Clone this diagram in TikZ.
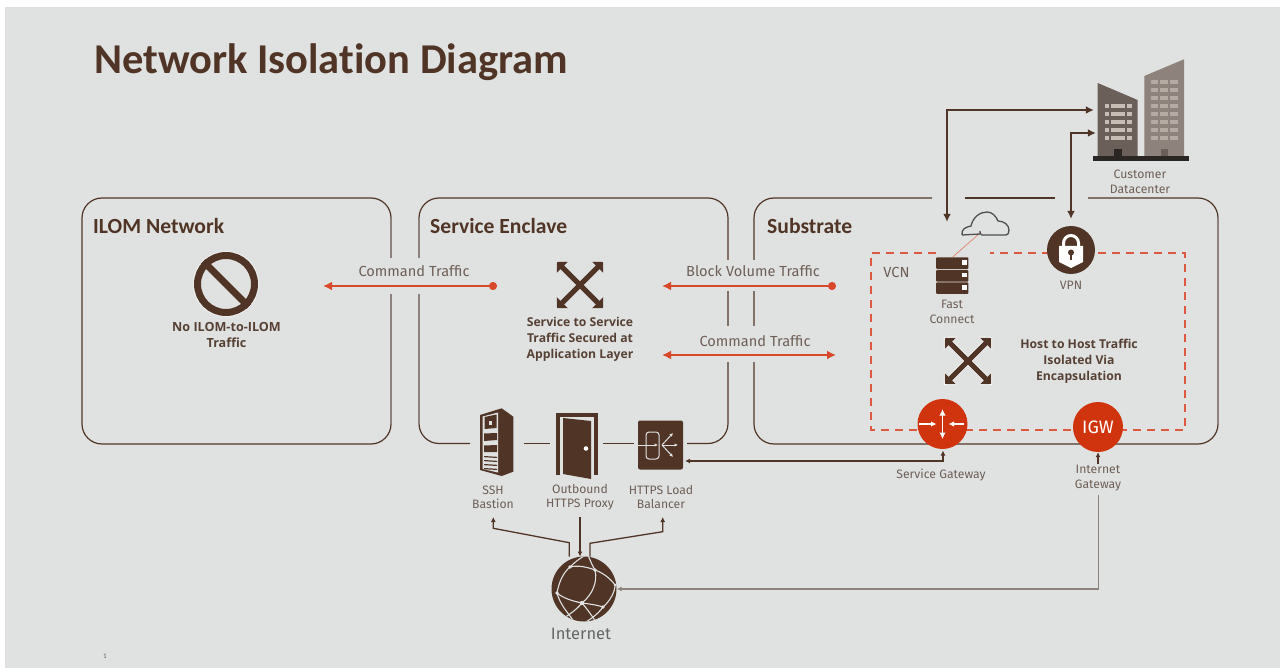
\documentclass[tikz,border=0pt]{standalone}
\usepackage{fontspec}
\setmainfont{Carlito}[Ligatures=CommonOff]
\newfontfamily\lbl{Fira Sans}
\newfontfamily\lblb{Open Sans}
\usetikzlibrary{arrows.meta,calc}
\definecolor{bgc}{HTML}{E0E2E1}
\definecolor{brn}{HTML}{503526}
\definecolor{txtc}{HTML}{6E5F57}
\definecolor{redl}{HTML}{D8492B}
\definecolor{redf}{HTML}{D0340F}
\definecolor{bldA}{HTML}{6A5F59}
\definecolor{bldB}{HTML}{8E837C}
\definecolor{winA}{HTML}{C8BDB4}
\definecolor{winB}{HTML}{B5AAA1}
\tikzset{
  panel/.style={draw=brn,line width=1.2pt},
  panelside/.style={draw=bldB,line width=1.7pt},
  paneltitle/.style={anchor=west,font=\bfseries\fontsize{21.6}{24}\selectfont,text=brn,inner sep=0pt},
  lab/.style={font=\lbl\fontsize{12.2}{14.5}\selectfont,text=txtc,align=center,inner sep=0pt},
  traffic/.style={font=\lbl\fontsize{14.6}{16}\selectfont,text=txtc,align=center,inner sep=0pt},
  blab/.style={font=\lblb\bfseries\fontsize{12.2}{16}\selectfont,text=brn!85!gray,align=center,inner sep=0pt},
  redarrow/.style={draw=redl,line width=2.5pt,{Circle[length=8pt]}-{Latex[length=9pt,width=9pt]}},
  reddouble/.style={draw=redl,line width=2.3pt,{Latex[length=9pt,width=9pt]}-{Latex[length=9pt,width=9pt]}},
  link/.style={draw=brn,line width=1.9pt,{Latex[length=8pt,width=8pt]}-{Latex[length=8pt,width=8pt]}},
  thin link/.style={draw=brn,line width=1.3pt,-{Latex[length=5pt,width=5pt]}},
  anchorpt/.style={inner sep=0pt,minimum size=0pt},
  xarrow/.style={draw=brn,line width=5pt,{Triangle[length=7.5pt,width=15pt]}-{Triangle[length=7.5pt,width=15pt]}},
  xhalo/.style={draw=white,line width=6.5pt,{Triangle[length=9pt,width=18pt]}-{Triangle[length=9pt,width=18pt]}},
  vcnline/.style={draw=redl!90!white,line width=1.8pt,dash pattern=on 8pt off 6pt},
  globeline/.style={draw=bgc,line width=1.1pt},
}
\begin{document}
\begin{tikzpicture}[x=1pt,y=-1pt]
\useasboundingbox (0,0) rectangle (1280,668);
\fill[white] (0,0) rectangle (1280,668);
\fill[bgc] (5,7) rectangle (1280,668);

% title
\node[anchor=base west,inner sep=0pt,text=brn,font=\bfseries\fontsize{42.5}{46}\selectfont] (title) at (94,74) {Network Isolation Diagram};

% panels
\draw[panel,rounded corners=20pt] (82,198) rectangle (391,444);
\draw[panel,rounded corners=20pt] (470,443.5) -- (419,443.5) -- (419,198) -- (728,198) -- (728,443.5) -- (687,443.5);
\draw[panel] (524,443.5) -- (550,443.5) (603,443.5) -- (634,443.5);
\draw[panel,rounded corners=20pt] (932,198) -- (754,198) -- (754,444) -- (1218,444) -- (1218,198) -- (1088,198);
\draw[panel] (965,198) -- (1055,198);
\draw[panelside] (391,218) -- (391,424) (419,218) -- (419,424) (1218,218) -- (1218,424);
% gaps where the traffic arrows cross
\fill[bgc] (388,258) rectangle (394,294);
\fill[bgc] (416,258) rectangle (422,294);
\fill[bgc] (725,260) rectangle (731,291);
\fill[bgc] (751,260) rectangle (757,291);
\fill[bgc] (725,326) rectangle (731,362);
\fill[bgc] (751,326) rectangle (757,362);
\node[paneltitle] (t1) at (93,226) {ILOM Network};
\node[paneltitle] (t2) at (430,226) {Service Enclave};
\node[paneltitle] (t3) at (767,226) {Substrate};

% VCN dashed
\draw[vcnline] (936,253) -- (871,253) -- (871,430) -- (1185,430) -- (1185,253) -- (990,253);
\node[font=\lbl\fontsize{14.6}{16}\selectfont,text=txtc,inner sep=0pt] (vcn) at (896.5,272) {VCN};

% no symbol
\draw[white!50!bgc,line width=1pt] (226,284) circle[radius=32.5];
\node[draw=brn,line width=7pt,circle,minimum size=57pt,inner sep=0pt] (noilom) at (226,284) {};
\draw[brn,line width=7pt] (noilom.north west) -- (noilom.south east);
\node[blab,font=\lblb\bfseries\fontsize{12.6}{16}\selectfont] (noilomt) at (226.5,335) {No ILOM-to-ILOM\\Traffic};

% traffic arrows
\coordinate (c1a) at (497,286); \coordinate (c1b) at (323,286);
\coordinate (b1a) at (836,286); \coordinate (b1b) at (662,286);
\coordinate (c2a) at (662,355); \coordinate (c2b) at (836,355);
\draw[redarrow] (c1a) -- (c1b);
\draw[redarrow] (b1a) -- (b1b);
\draw[reddouble] (c2a) -- (c2b);
\node[traffic] (c1t) at (414,271) {Command Traffic};
\node[traffic] (b1t) at (753,271) {Block Volume Traffic};
\node[traffic] (c2t) at (755,341) {Command Traffic};

% service-to-service cross
\node[anchorpt] (xs) at (580,285) {};
\draw[xarrow] ($(xs)+(-23,-23)$) -- ($(xs)+(23,23)$);
\draw[xarrow] ($(xs)+(23,-23)$) -- ($(xs)+(-23,23)$);
\node[blab] (xst) at (580,339) {Service to Service\\Traffic Secured at\\Application Layer};

% host-to-host cross
\node[anchorpt] (xh) at (968,361) {};
\draw[xhalo] ($(xh)+(-24,-24)$) -- ($(xh)+(24,24)$);
\draw[xhalo] ($(xh)+(24,-24)$) -- ($(xh)+(-24,24)$);
\draw[xarrow] ($(xh)+(-23,-23)$) -- ($(xh)+(23,23)$);
\draw[xarrow] ($(xh)+(23,-23)$) -- ($(xh)+(-23,23)$);
\node[blab] (xht) at (1079,361) {Host to Host Traffic\\Isolated Via\\Encapsulation};

% datacenter
\node[anchorpt] (dc) at (1094,110) {};
\fill[bldA] (1097.7,83) -- (1137.7,100) -- (1137.7,157) -- (1097.7,157) -- cycle;
\fill[bldB] (1144.3,76) -- (1184,59.3) -- (1184,157) -- (1144.3,157) -- cycle;
\foreach \y in {106,114,121.7,129.7,137.7}{
  \fill[winA] (1104.5,\y-2) rectangle (1109,\y+2);
  \fill[winA] (1110.7,\y-2) rectangle (1125,\y+2);
  \fill[winA] (1126.7,\y-2) rectangle (1131.7,\y+2);
}
\foreach \y in {82,90,97.7,105.7,113.7,121.7,129.7,137.7}{
  \fill[winB] (1150.7,\y-2) rectangle (1158.3,\y+2);
  \fill[winB] (1160,\y-2) rectangle (1168.3,\y+2);
  \fill[winB] (1170,\y-2) rectangle (1177.7,\y+2);
}
\fill[black!60!bldA] (1114,149) rectangle (1121.7,157);
\fill[bldA] (1160.7,149) rectangle (1168.3,157);
\fill[black!60!bldA] (1093.3,156) rectangle (1189,161);
\node[lab] (dct) at (1140,182) {Customer\\Datacenter};

% fast connect
\node[anchorpt] (fc) at (947,222) {};
\node[anchorpt] (fcs) at (952.7,257) {};
\node[anchorpt] (cl) at (980,233) {};
\draw[redl!70!white,line width=0.7pt] (fcs) -- (cl);
\draw[black!65!bgc,line width=1.3pt,line join=round] (962,235) .. controls (961,229) and (966,227) .. (971,226)
  .. controls (973,217) and (980,212) .. (987,212)
  .. controls (992,212) and (996,216) .. (998,221)
  .. controls (1004,221) and (1009,225) .. (1009,230)
  .. controls (1009,233) and (1008,235) .. (1006,235) -- (982,235)
  .. controls (980,235) and (980,233) .. (980,231)
  (980,234) -- (962,235);
\foreach \a/\b in {257.3/269,270/281.7,282.3/294}{
  \fill[brn,rounded corners=1pt] (936,\a) rectangle (968.3,\b);
  \fill[white] (962.2,\a+3) rectangle (967,\a+7.5);
}
\node[lab] (fct) at (952,312) {Fast\\Connect};

% VPN
\node[circle,fill=brn,minimum size=48pt,inner sep=0pt] (vpn) at (1071,250) {};
\fill[white] (1059,246) -- (1083,246) -- (1083,262) -- (1071,268) -- (1059,262) -- cycle;
\draw[white,line width=3pt] (1063.5,246) -- (1063.5,243) arc[start angle=180,end angle=360,radius=7.5] -- (1078.5,246);
\fill[brn] (1071,252.5) circle[radius=3];
\fill[brn] (1069.8,252.5) rectangle (1072.2,260);
\node[lab] (vpnt) at (1071,285) {VPN};
\node[anchorpt] (vpna) at (1071,219) {};
\node[anchorpt] (dc2) at (1096,133) {};

% connectors to datacenter
\draw[link] (fc) |- (dc);
\draw[link] (vpna) |- (dc2);

% gateways
\node[circle,fill=redf,minimum size=50pt,inner sep=0pt] (sgw) at (942.5,424) {};
\draw[white,line width=1.4pt,{Latex[length=6.5pt,width=6.5pt]}-{Latex[length=6.5pt,width=6.5pt]}] (942.5,409) -- (942.5,439);
\draw[white,line width=1.3pt,-{Latex[length=5.5pt,width=5.5pt]}] (919,424) -- (936.5,424);
\draw[white,line width=1.3pt,-{Latex[length=5.5pt,width=5.5pt]}] (964,424) -- (948.5,424);
\node[circle,fill=redf,minimum size=50pt,inner sep=0pt,text=white,font=\lbl\fontsize{18}{20}\selectfont] (igw) at (1098,427) {IGW};
\node[lab] (sgwt) at (941,475) {Service Gateway};
\node[lab] (igwt) at (1098,478) {Internet\\Gateway};
\coordinate (igwa) at (1098,464);
\draw[thin link] (igwa) -- (igw.south);

% bastion icon
\node[anchorpt] (ssh) at (496,442) {};
\fill[brn] (480,415) -- (501.7,408.3) -- (513.3,416.7) -- (513.3,471.7) -- (501.7,476) -- (480,470) -- cycle;
\fill[bgc] (482.7,416.5) -- (498,412.5) -- (498,472.5) -- (482.7,469) -- cycle;
\fill[brn] (484.5,417) -- (496.5,414.5) -- (496.5,428) -- (484.5,429) -- cycle;
\fill[bgc] (489,421) rectangle (492,425);
\fill[brn] (484,433.5) -- (497,433) -- (497,440) -- (484,441) -- cycle;
\fill[brn] (484,445.5) -- (497,445) -- (497,452) -- (484,452) -- cycle;
\foreach \y in {456,460,464,468}{\fill[brn] (484,\y) -- (497,\y+0.8) -- (497,\y+2) -- (484,\y+1.2) -- cycle;}
\node[lab] (ssht) at (493,497.5) {SSH\\Bastion};

% proxy icon
\node[anchorpt] (proxy) at (580,445) {};
\draw[brn,line width=3.8pt] (558,475) -- (558,414.7) -- (596,414.7) -- (596,475);
\fill[brn] (563,418) -- (591,421) -- (591,479) -- (563,474) -- cycle;
\fill[white] (586,448.5) circle[radius=2.3];
\node[lab] (proxyt) at (580,497) {Outbound\\HTTPS Proxy};

% load balancer icon
\node[fill=brn,rounded corners=2pt,minimum width=45pt,minimum height=49pt,inner sep=0pt] (lb) at (660.5,445) {};
\draw[bgc,line width=1pt,rounded corners=3pt] (646,432) rectangle (659,459);
\draw[bgc,line width=1pt,-{Latex[length=3.5pt,width=3.5pt]}] (638,445) -- (658,445);
\draw[bgc,line width=1pt,-{Latex[length=3.5pt,width=3.5pt]}] (662,445) -- (678,445);
\draw[bgc,line width=1pt,-{Latex[length=3.5pt,width=3.5pt]}] (662,445) -- (673,433);
\draw[bgc,line width=1pt,-{Latex[length=3.5pt,width=3.5pt]}] (662,445) -- (673,457);
\node[lab] (lbt) at (661,497) {HTTPS Load\\Balancer};

% connectors LB-SGW
\coordinate (lbr) at (685,461);
\coordinate (sgwb) at (943,450.5);
\draw[draw=brn,line width=1.3pt,{Latex[length=5pt,width=5pt]}-{Latex[length=5pt,width=5pt]}] (lbr) -| (sgwb);

% internet globe
\node[circle,fill=brn,minimum size=65pt,inner sep=0pt] (inet) at (584,589) {};
\begin{scope}
\clip (inet) circle[radius=32.5];
\draw[globeline] (557,593) .. controls (559,582) and (563,573) .. (570,567);
\draw[globeline] (570,567) .. controls (578,565) and (587,567) .. (595,570);
\draw[globeline] (595,570) .. controls (603,573) and (610,578) .. (615,585);
\draw[globeline] (570,567) .. controls (575,562) and (580,558) .. (586,555);
\draw[globeline] (595,570) .. controls (592,565) and (590,560) .. (588,555);
\draw[globeline] (595,570) .. controls (598,582) and (592,595) .. (582,603);
\draw[globeline] (615,585) .. controls (615,592) and (610,601) .. (603,607);
\draw[globeline] (557,593) .. controls (563,598) and (572,601) .. (582,603);
\draw[globeline] (582,603) .. controls (590,604) and (597,605) .. (603,607);
\draw[globeline] (557,593) .. controls (560,604) and (567,612) .. (573,620);
\draw[globeline] (582,603) .. controls (576,610) and (570,614) .. (564,618);
\draw[globeline] (582,603) .. controls (588,610) and (592,616) .. (596,622);
\draw[globeline] (603,607) .. controls (598,614) and (592,618) .. (586,622);
\end{scope}
\fill[bgc] (570,567) circle[radius=1.9] (595,570) circle[radius=1.9] (557,593) circle[radius=1.9] (582,603) circle[radius=2.2] (603,607) circle[radius=1.9] (615,585) circle[radius=1.5];
\node[font=\lbl\fontsize{16.5}{18}\selectfont,text=black!55!bgc,inner sep=0pt] (inett) at (581,634) {Internet};

% connectors to internet
\coordinate (sshb) at (493.3,517);
\coordinate (proxyb) at (580,517);
\coordinate (lbb) at (662.7,517);
\coordinate (in1) at (569.3,556.5);
\coordinate (in2) at (580,556.5);
\coordinate (in3) at (590,556.5);
\draw[thin link] (in1) -- (569.3,542.7) -- (493.3,528.3) -- (sshb);
\draw[thin link] (proxyb) -- (in2);
\draw[thin link] (in3) -- (590,543.3) -- (662.7,531.7) -- (lbb);
\coordinate (igwd) at (1098.3,495);
\draw[draw=bldB,line width=1.3pt,-{Latex[length=5pt,width=5pt]}] (igwd) |- (inet.east);

\node[font=\fontsize{7}{8}\selectfont,text=txtc,inner sep=0pt] (pg) at (105,656) {1};
\end{tikzpicture}
\end{document}
